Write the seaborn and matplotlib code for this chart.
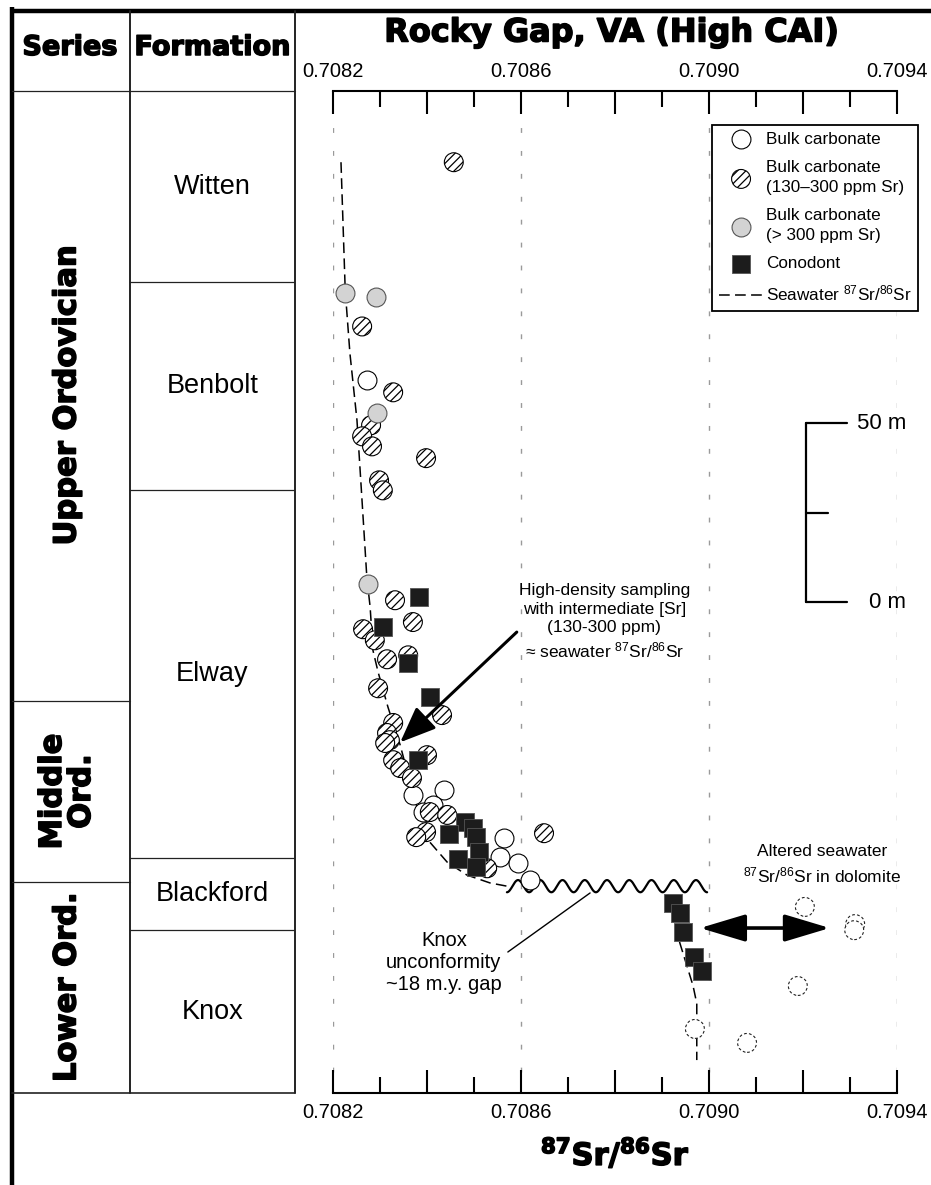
import numpy as np
import pandas as pd
import matplotlib
matplotlib.use('Agg')
import matplotlib.pyplot as plt
import matplotlib.patheffects as pe
import seaborn as sns
from matplotlib.ticker import FixedLocator, MultipleLocator

sns.set_style('white')
plt.rcParams['font.family'] = ['Liberation Sans', 'DejaVu Sans']
plt.rcParams['mathtext.default'] = 'regular'
plt.rcParams['hatch.linewidth'] = 0.9
plt.rcParams['text.color'] = 'black'
plt.rcParams['axes.labelcolor'] = 'black'
plt.rcParams['xtick.color'] = 'black'
plt.rcParams['xtick.labelcolor'] = 'black'

# --- data: 87Sr/86Sr vs height above base of section (m) ---
open_sr = [0.708272, 0.708370, 0.708436, 0.708413, 0.708391, 0.708564, 0.708555, 0.708594, 0.708619]
open_h = [199.2, 83.2, 84.6, 80.4, 78.5, 71.2, 65.9, 64.2, 59.5]

hatch_sr = [0.708457, 0.708262, 0.708328, 0.708281, 0.708262, 0.708283, 0.708398, 0.708298,
            0.708306, 0.708332, 0.708264, 0.708370, 0.708289, 0.708315, 0.708360, 0.708296,
            0.708432, 0.708328, 0.708315, 0.708321, 0.708311, 0.708400, 0.708328, 0.708343,
            0.708368, 0.708406, 0.708443, 0.708398, 0.708377, 0.708649, 0.708528]
hatch_h = [260.1, 214.2, 195.8, 186.6, 183.5, 180.7, 177.4, 171.2,
           168.4, 137.7, 129.6, 131.6, 126.5, 121.2, 122.3, 113.1,
           105.6, 103.4, 100.6, 98.6, 97.8, 94.4, 93.0, 90.8,
           88.0, 78.5, 77.7, 72.9, 71.5, 72.6, 62.8]

gray_sr = [0.708226, 0.708291, 0.708294, 0.708274]
gray_h = [223.5, 222.3, 189.9, 142.2]

cono_sr = [0.708383, 0.708306, 0.708360, 0.708406, 0.708381, 0.708481, 0.708498, 0.708504,
           0.708447, 0.708511, 0.708466, 0.708504, 0.708923, 0.708938, 0.708945, 0.708968,
           0.708985]
cono_h = [138.5, 130.2, 120.1, 110.6, 93.0, 75.7, 74.0, 71.5,
          72.3, 67.3, 65.4, 63.1, 53.1, 50.3, 45.0, 38.0,
          34.1]

dolo_sr = [0.709204, 0.709311, 0.709309, 0.709189, 0.708970, 0.709081]
dolo_h = [52.0, 47.2, 45.5, 29.9, 17.9, 14.0]

sw_upper_sr = [0.708217, 0.708226, 0.708236, 0.708251, 0.708264, 0.708272, 0.708279, 0.708285,
               0.708296, 0.708317, 0.708343, 0.708374, 0.708406, 0.708443, 0.708485, 0.708534,
               0.708570]
sw_upper_h = [260.1, 224.3, 206.7, 188.0, 160.9, 144.1, 135.8, 123.7,
              117.6, 107.8, 97.2, 81.8, 70.1, 64.5, 60.9, 58.7,
              57.8]
sw_lower_sr = [0.708913, 0.708938, 0.708966, 0.708974, 0.708974]
sw_lower_h = [55.3, 41.9, 30.0, 25.0, 9.2]

# Knox unconformity
unconf_sr = (0.708570, 0.708996)
unconf_h = 57.8

# stratigraphic column
formations = ['Witten', 'Benbolt', 'Elway', 'Blackford', 'Knox']
formation_tops = [280, 226.5, 168.4, 65.6, 45.5]
series = ['Upper Ordovician', 'Middle\nOrd.', 'Lower Ord.']
series_tops = [280, 109.5, 58.9]

x_ticks = [0.7082, 0.7084, 0.7086, 0.7088, 0.7090, 0.7092, 0.7094]
x_ticklabels = ['0.7082', '', '0.7086', '', '0.7090', '', '0.7094']
grid_x = [0.7082, 0.7086, 0.7090, 0.7094]

df_open = pd.DataFrame({'sr': open_sr, 'h': open_h})
df_hatch = pd.DataFrame({'sr': hatch_sr, 'h': hatch_h})
df_gray = pd.DataFrame({'sr': gray_sr, 'h': gray_h})
df_cono = pd.DataFrame({'sr': cono_sr, 'h': cono_h})
df_dolo = pd.DataFrame({'sr': dolo_sr, 'h': dolo_h})
df_sw1 = pd.DataFrame({'sr': sw_upper_sr, 'h': sw_upper_h})
df_sw2 = pd.DataFrame({'sr': sw_lower_sr, 'h': sw_lower_h})

heavy = [pe.withStroke(linewidth=1.1, foreground='black')]

W, H = 931, 1185
fig = plt.figure(figsize=(W / 100, H / 100), dpi=100)
ax = fig.add_axes([333 / W, 92 / H, 564 / W, 1002 / H])
ax.patch.set_alpha(0)
ax.set_zorder(2)
ax.set_xlim(0.7082, 0.7094)
ax.set_ylim(0, 280)
m_per_px = 280 / 1002

# grid
ax.vlines(grid_x, 6, 273, colors='#9a9a9a', linewidth=1.0, linestyles=(0, (3.5, 13)), zorder=0)

# seawater curve
sw_ls = (0, (7, 3.5))
sns.lineplot(data=df_sw1, x='sr', y='h', sort=False, estimator=None, color='black',
             linewidth=1.1, linestyle=sw_ls, ax=ax, label='Seawater $^{87}$Sr/$^{86}$Sr', legend=False)
sns.lineplot(data=df_sw2, x='sr', y='h', sort=False, estimator=None, color='black',
             linewidth=1.1, linestyle=sw_ls, ax=ax, legend=False)

# unconformity (wavy line symbol)
wx = np.linspace(unconf_sr[0], unconf_sr[1], 600)
period = (unconf_sr[1] - unconf_sr[0]) / 9
wy = unconf_h + 1.7 * np.cos(2 * np.pi * (wx - unconf_sr[0]) / period + np.pi)
ax.plot(wx, wy, color='black', lw=1.6, zorder=3)

# samples
sns.scatterplot(data=df_open, x='sr', y='h', marker='o', s=185, color='white',
                edgecolor='black', linewidth=0.8, ax=ax, label='Bulk carbonate', legend=False, zorder=4)
sns.scatterplot(data=df_dolo, x='sr', y='h', marker='o', s=185, color='white',
                edgecolor='#222222', linewidth=0.8, linestyle=(0, (2.5, 2)), ax=ax, legend=False, zorder=4)
sns.scatterplot(data=df_hatch, x='sr', y='h', marker='o', s=185, color='white', hatch='////',
                edgecolor='black', linewidth=0.8, ax=ax,
                label='Bulk carbonate\n(130\u2013300 ppm Sr)', legend=False, zorder=5)
sns.scatterplot(data=df_gray, x='sr', y='h', marker='o', s=185, color='#d3d3d3',
                edgecolor='#555555', linewidth=0.8, ax=ax,
                label='Bulk carbonate\n(> 300 ppm Sr)', legend=False, zorder=5)
sns.scatterplot(data=df_cono, x='sr', y='h', marker='s', s=175, color='#1c1c1c',
                edgecolor='#555555', linewidth=0.6, ax=ax, label='Conodont', legend=False, zorder=6)

# axes styling
for side in ['left', 'right']:
    ax.spines[side].set_visible(False)
for side in ['top', 'bottom']:
    ax.spines[side].set_linewidth(1.5)
    ax.spines[side].set_color('black')
ax.xaxis.set_major_locator(FixedLocator(x_ticks))
ax.xaxis.set_minor_locator(MultipleLocator(0.0001))
ax.set_xticklabels(x_ticklabels)
ax.tick_params(axis='x', which='both', top=True, bottom=True, labeltop=True, labelbottom=True,
               direction='in', width=1.5, color='black', labelsize=14.5, pad=7)
ax.tick_params(axis='x', which='major', length=16.5)
ax.tick_params(axis='x', which='minor', length=11.5)
ax.set_yticks([])
ax.set_ylabel('')
ax.set_xlabel('$^{87}$Sr/$^{86}$Sr', fontsize=22, fontweight='bold', family='DejaVu Sans',
              labelpad=10, path_effects=heavy)

# legend
handles, labels = ax.get_legend_handles_labels()
order = ['Bulk carbonate', 'Bulk carbonate\n(130\u2013300 ppm Sr)', 'Bulk carbonate\n(> 300 ppm Sr)',
         'Conodont', 'Seawater $^{87}$Sr/$^{86}$Sr']
hmap = dict(zip(labels, handles))
leg = ax.legend([hmap[k] for k in order], order, loc='upper left', bbox_to_anchor=(0.672, 0.966),
                borderaxespad=0, frameon=True, fancybox=False, framealpha=1, edgecolor='black',
                fontsize=12.3, handlelength=2.6, handletextpad=0.15, borderpad=0.4,
                labelspacing=0.75, scatterpoints=1)
leg.get_frame().set_linewidth(1.3)
for t in leg.get_texts():
    t.set_linespacing(1.45)

# scale bar
sb_x = 0.709206
sb_base = 137.2
ax.plot([sb_x, sb_x], [sb_base, sb_base + 50], color='black', lw=1.6)
ax.plot([sb_x, 0.709294], [sb_base + 50] * 2, color='black', lw=1.6)
ax.plot([sb_x, 0.709294], [sb_base] * 2, color='black', lw=1.6)
ax.plot([sb_x, 0.709253], [sb_base + 25] * 2, color='black', lw=1.6)
ax.text(0.709419, sb_base + 50, '50 m', ha='right', va='center', fontsize=16)
ax.text(0.709419, sb_base, '0 m', ha='right', va='center', fontsize=16)

# annotations
ax.text(0.708777, 131.7, 'High-density sampling\nwith intermediate [Sr]\n(130-300 ppm)\n\u2248 seawater $^{87}$Sr/$^{86}$Sr',
        ha='center', va='center', fontsize=12.5, linespacing=1.32, zorder=7)
ax.annotate('', xy=(0.708343, 98.0), xytext=(0.708591, 128.8),
            arrowprops=dict(arrowstyle='-|>,head_length=1.1,head_width=0.45', color='black', lw=2.2,
                            mutation_scale=20, shrinkA=0, shrinkB=0), zorder=8)
ax.text(0.708436, 36.5, 'Knox\nunconformity\n~18 m.y. gap', ha='center', va='center',
        fontsize=14.5, linespacing=1.2)
ax.annotate('', xy=(0.708747, 55.9), xytext=(0.708572, 39.4),
            arrowprops=dict(arrowstyle='-', color='black', lw=1.0, shrinkA=0, shrinkB=0))
ax.text(0.709240, 63.7, 'Altered seawater\n$^{87}$Sr/$^{86}$Sr in dolomite', ha='center', va='center',
        fontsize=12.5, linespacing=1.4)
ax.annotate('', xy=(0.709257, 46.1), xytext=(0.708981, 46.1),
            arrowprops=dict(arrowstyle='<|-|>,head_length=1.4,head_width=0.42', color='black', lw=2.6,
                            mutation_scale=20, shrinkA=0, shrinkB=0), zorder=8)

# title
fig.text(612 / W, 1 - 33 / H, 'Rocky Gap, VA (High CAI)', ha='center', va='center',
         fontsize=23, fontweight='bold', family='DejaVu Sans', path_effects=heavy)

# stratigraphic column
axt = fig.add_axes([12 / W, 92 / H, 283 / W, 1002 / H])
axt.set_zorder(1)
axt.set_xlim(0, 283)
axt.set_ylim(0, 280)
axt.axis('off')
top_y = 280 + 80 * m_per_px
head_y = 280 + 43 * m_per_px
bot_y = -(H - 1093) * m_per_px - 5
col_x = 118
axt.plot([0, W - 12], [top_y, top_y], color='black', lw=3.2, clip_on=False, solid_capstyle='butt')
axt.plot([0, 0], [bot_y, top_y + 1], color='black', lw=3.2, clip_on=False, solid_capstyle='butt')
axt.plot([col_x, col_x], [0, top_y], color='#222222', lw=1.4, clip_on=False)
axt.plot([283, 283], [0, top_y], color='#222222', lw=1.4, clip_on=False)
axt.plot([0, 283], [280, 280], color='#222222', lw=0.9, clip_on=False)
axt.plot([0, 283], [0, 0], color='#222222', lw=1.2, clip_on=False)
for t in formation_tops[1:]:
    axt.plot([col_x, 283], [t, t], color='#222222', lw=0.9)
for t in series_tops[1:]:
    axt.plot([0, col_x], [t, t], color='#222222', lw=0.9)
axt.text(col_x / 2 - 1, head_y, 'Series', ha='center', va='center', fontsize=19.5,
         fontweight='bold', family='DejaVu Sans', clip_on=False, path_effects=heavy)
axt.text((col_x + 283) / 2, head_y, 'Formation', ha='center', va='center', fontsize=19.5,
         fontweight='bold', family='DejaVu Sans', clip_on=False, path_effects=heavy)
f_bots = formation_tops[1:] + [0]
for name, t, b in zip(formations, formation_tops, f_bots):
    axt.text((col_x + 283) / 2, (t + b) / 2, name, ha='center', va='center', fontsize=19.5)
s_bots = series_tops[1:] + [0]
for name, t, b in zip(series, series_tops, s_bots):
    axt.text(col_x / 2 - 4, (t + b) / 2, name, ha='center', va='center', rotation=90,
             fontsize=22, fontweight='bold', family='DejaVu Sans', linespacing=1.0,
             multialignment='center', path_effects=heavy)

fig.savefig('out.png', dpi=100, facecolor='white')
